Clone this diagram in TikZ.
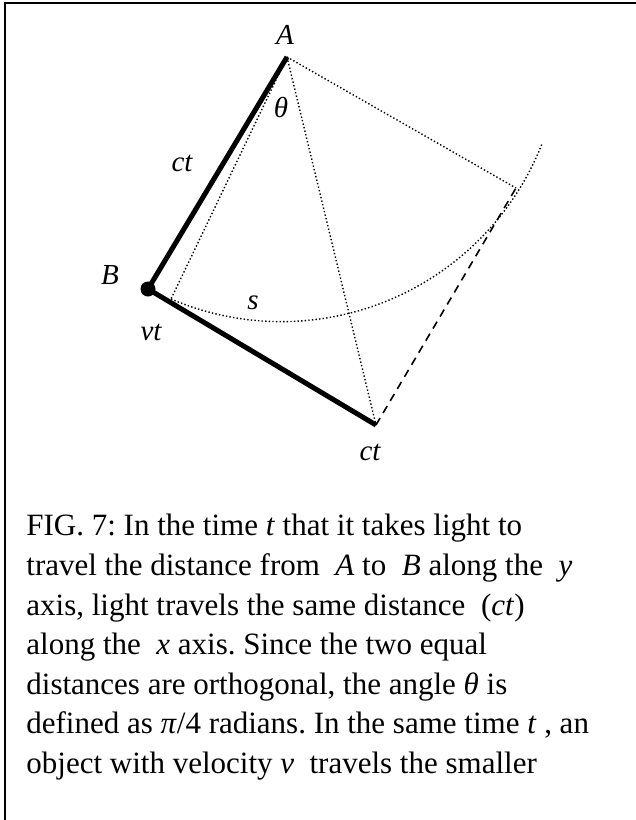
\documentclass[tikz,border=0pt]{standalone}
\usepackage{fontspec}
\setmainfont{Liberation Serif}
\usetikzlibrary{positioning}

\tikzset{
  leg/.style={line width=2.5pt},
  guide/.style={line width=0.7pt, dash pattern=on 0.7pt off 1.1pt},
  proj/.style={line width=0.8pt, dash pattern=on 4pt off 3pt},
  lbl/.style={font=\fontsize{14.5}{16}\selectfont\itshape, inner sep=0pt},
}

\begin{document}
\frenchspacing
\begin{tikzpicture}[x=0.5pt,y=0.5pt]
  \useasboundingbox (0,0) rectangle (636,-820);
  % frame
  \draw[line width=1pt] (5,-820) -- (5,-3) -- (636,-3);

  % points
  \coordinate (A) at (287,-57);
  \coordinate (B) at (148,-289);
  \coordinate (C) at (376,-425);
  \coordinate (D) at (516,-188);
  \coordinate (E) at (171,-299);

  % construction lines
  \draw[guide] (A) -- (D);
  \draw[guide] (A) -- (C);
  \draw[guide] (A) -- (E);
  \draw[guide] (E) arc[start angle=-113.2, end angle=-21.3, radius=280];
  \draw[proj] (C) -- (D);

  % the two legs
  \draw[leg] (A) -- (B) -- (C);
  \fill (B) circle (3.75pt);

  % labels
  \node[lbl] (labA) at (285,-35) {A};
  \node[lbl] (labTheta) at (281,-107) {θ};
  \node[lbl] (labCtA) at (182,-163) {ct};
  \node[lbl] (labB) at (110,-275) {B};
  \node[lbl] (labS) at (253,-303) {s};
  \node[lbl] (labVt) at (151,-332) {vt};
  \node[lbl] (labCtC) at (370,-452) {ct};

  \node[anchor=north west, align=left, inner sep=0pt,
        font=\fontsize{15.5}{19.8}\selectfont] (caption) at (26,-514) {%
    FIG. 7: In the time \textit{t} that it takes light to\\
    travel the distance from \ \textit{A} to \ \textit{B} along the \ \textit{y}\\
    axis, light travels the same distance \ (\textit{ct})\\
    along the \ \textit{x} axis. Since the two equal\\
    distances are orthogonal, the angle \textit{θ} is\\
    defined as \textit{π}/4 radians. In the same time \textit{t} , an\\
    object with velocity \textit{v} \ travels the smaller};
\end{tikzpicture}
\end{document}
